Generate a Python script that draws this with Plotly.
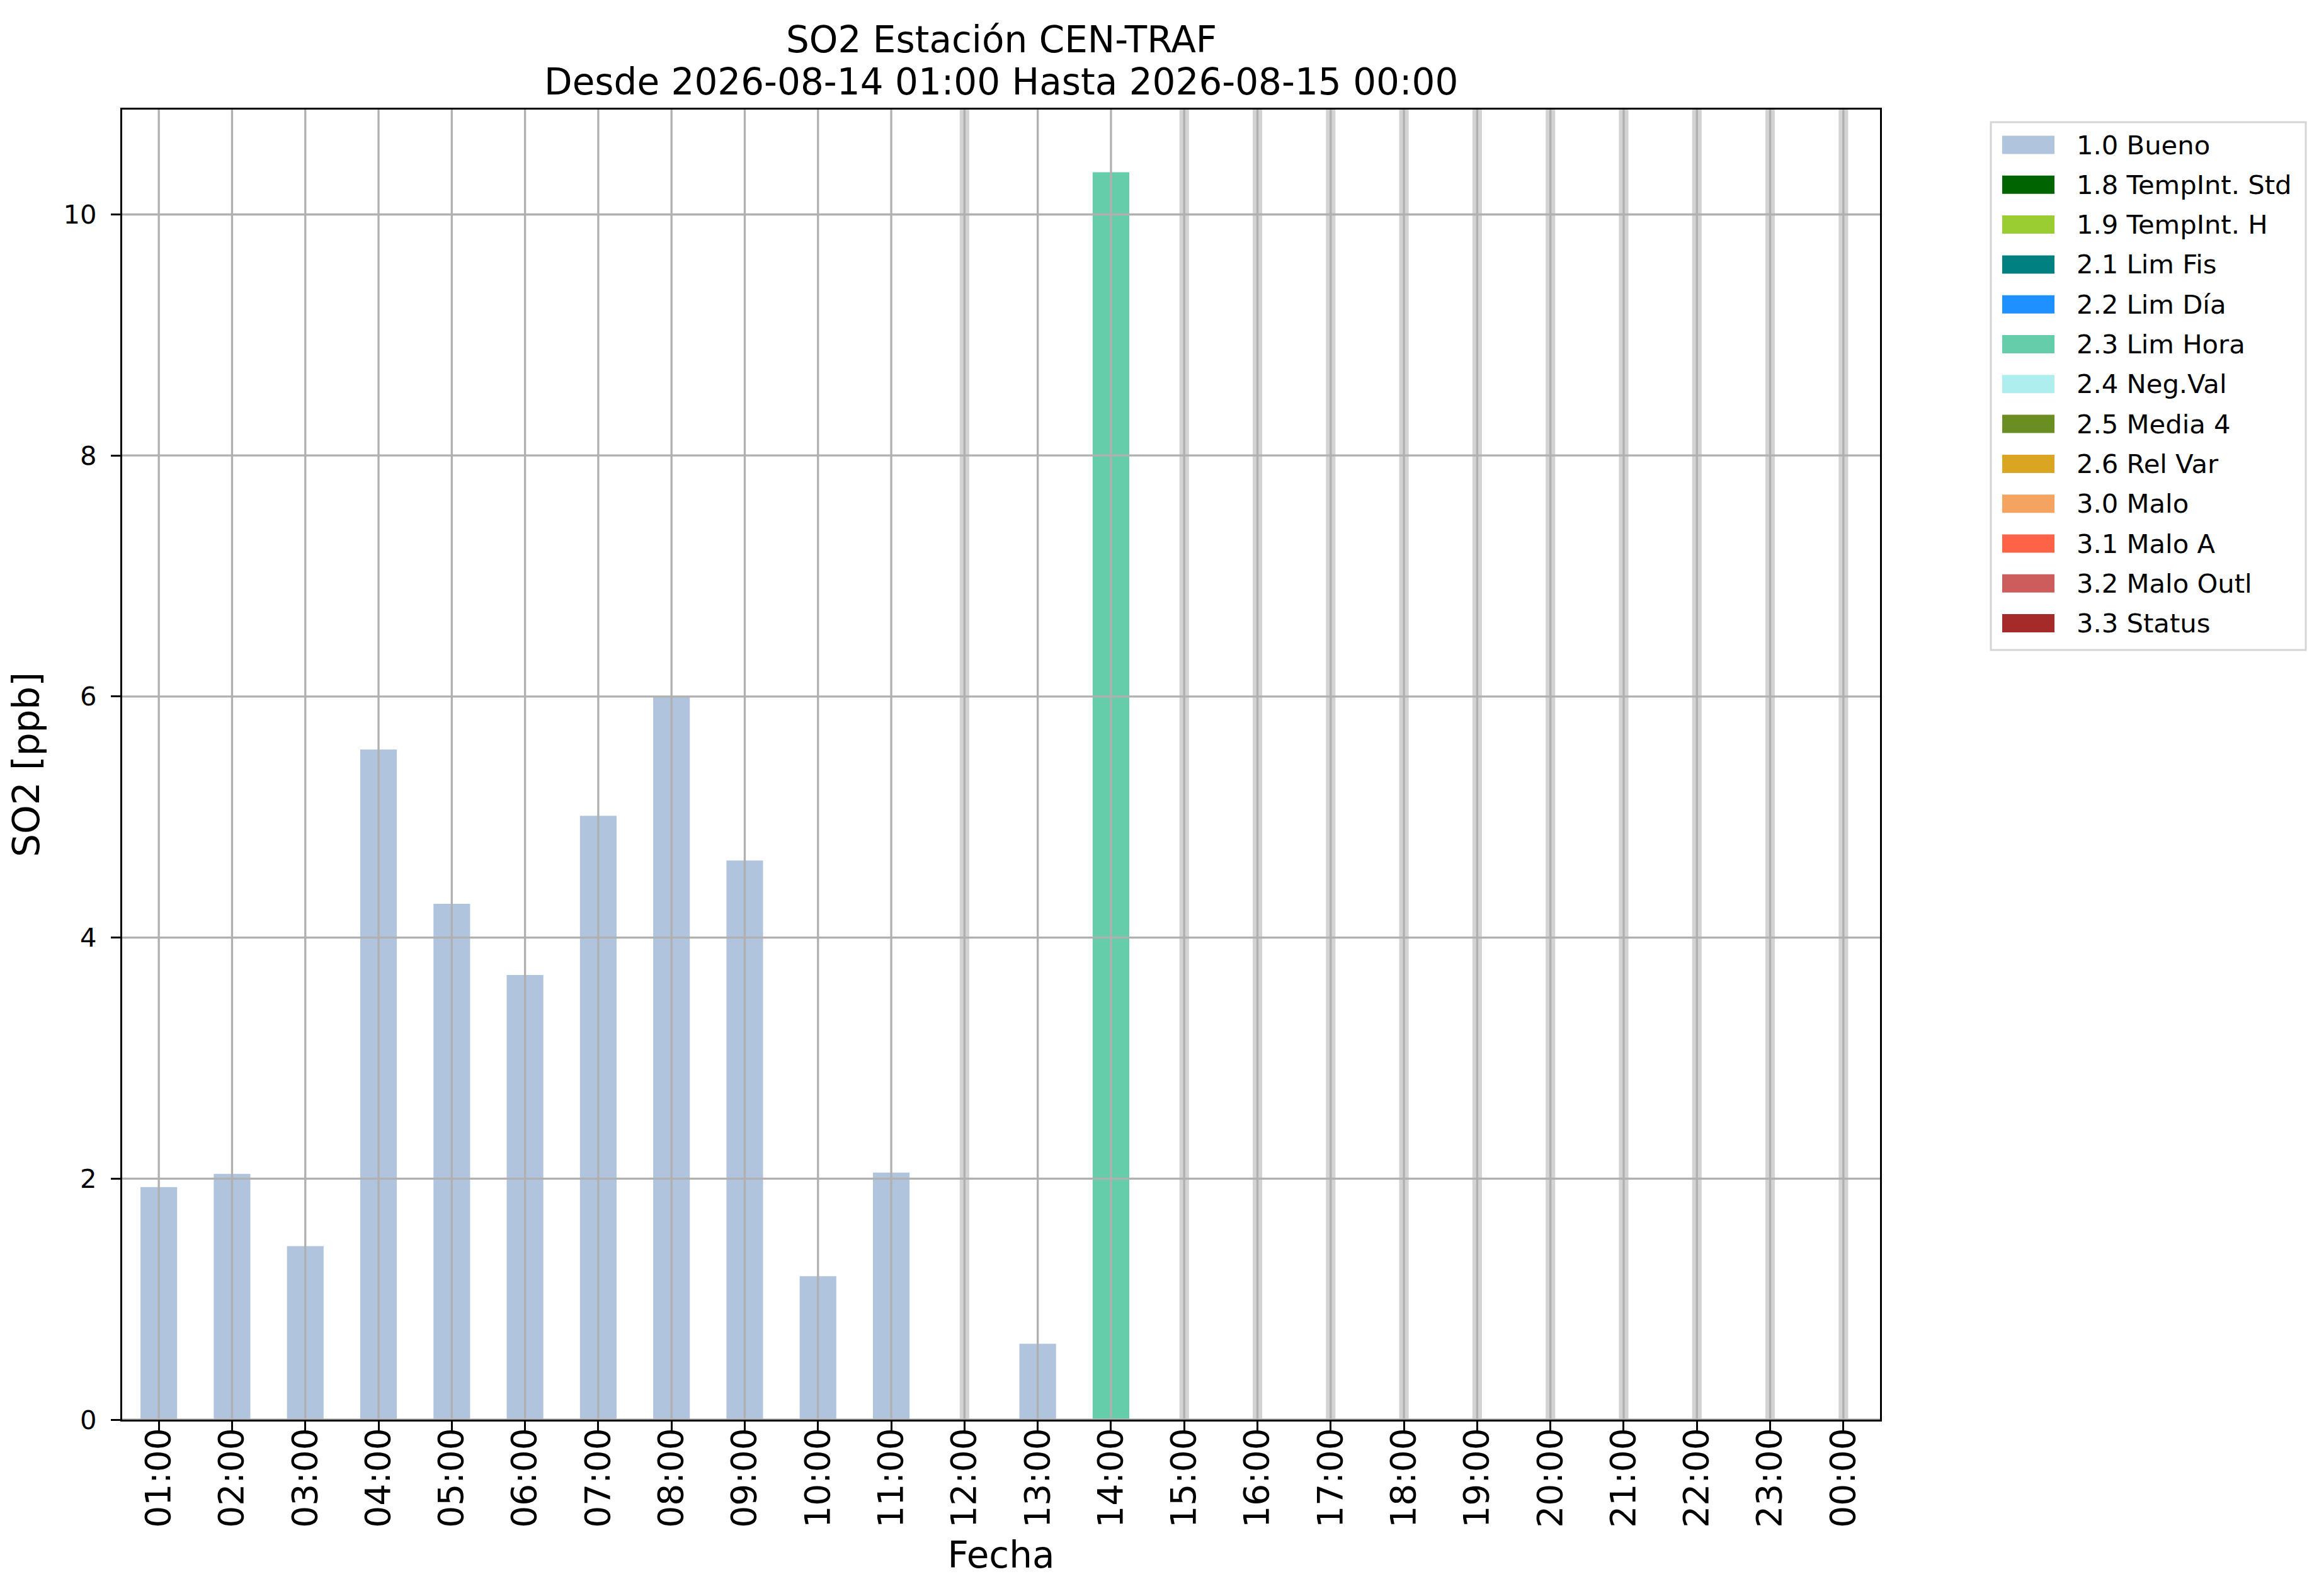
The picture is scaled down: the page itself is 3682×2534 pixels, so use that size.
import plotly.graph_objects as go

# ---------------- data ----------------
hours = ["01:00", "02:00", "03:00", "04:00", "05:00", "06:00", "07:00", "08:00",
         "09:00", "10:00", "11:00", "12:00", "13:00", "14:00", "15:00", "16:00",
         "17:00", "18:00", "19:00", "20:00", "21:00", "22:00", "23:00", "00:00"]
so2 = [1.93, 2.04, 1.44, 5.56, 4.28, 3.69, 5.01, 6.00, 4.64, 1.19, 2.05, None,
       0.63, 10.35, None, None, None, None, None, None, None, None, None, None]
flag = ["1.0", "1.0", "1.0", "1.0", "1.0", "1.0", "1.0", "1.0", "1.0", "1.0", "1.0", None,
        "1.0", "2.3", None, None, None, None, None, None, None, None, None, None]

flag_codes = ["1.0", "1.8", "1.9", "2.1", "2.2", "2.3", "2.4", "2.5", "2.6", "3.0", "3.1", "3.2", "3.3"]
flag_names = ["Bueno", "TempInt. Std", "TempInt. H", "Lim Fis", "Lim Día", "Lim Hora",
              "Neg.Val", "Media 4", "Rel Var", "Malo", "Malo A", "Malo Outl", "Status"]
flag_colors = ["#B0C4DE", "#006400", "#9ACD32", "#008080", "#1E90FF", "#66CDAA",
               "#AFEEEE", "#6B8E23", "#DAA520", "#F4A460", "#FF6347", "#CD5C5C", "#A52A2A"]
y_ticks = [0, 2, 4, 6, 8, 10]

title_lines = ["SO2 Estación CEN-TRAF", "Desde 2026-08-14 01:00 Hasta 2026-08-15 00:00"]

# ---------------- layout geometry (pixels) ----------------
W, H = 3682, 2534
L, R, T, B = 186, 2977, 166, 2246
FONT = "DejaVu Sans"
GRID = "#b0b0b0"


def px_x(p):
    return (p - L) / (R - L)


def px_y(p):
    return (B - p) / (B - T)


fig = go.Figure()

for code, name, col in zip(flag_codes, flag_names, flag_colors):
    yv = [v if f == code else None for v, f in zip(so2, flag)]
    fig.add_trace(go.Bar(x=hours, y=yv, name=f"{code} {name}", marker_color=col,
                         marker_line_width=0, width=0.5, showlegend=False))

shapes = []
# missing-data bands
for i, v in enumerate(so2):
    if v is None:
        shapes.append(dict(type="rect", xref="x", yref="y domain", x0=i - 0.065, x1=i + 0.065,
                           y0=0, y1=1, fillcolor="#d3d3d3", line_width=0, layer="below"))
# grid lines above bars
for i in range(len(hours)):
    shapes.append(dict(type="line", xref="x", yref="y domain", x0=i, x1=i, y0=0, y1=1,
                       line=dict(color=GRID, width=3.3), layer="above"))
for t in y_ticks:
    shapes.append(dict(type="line", xref="x domain", yref="y", x0=0, x1=1, y0=t, y1=t,
                       line=dict(color=GRID, width=3.3), layer="above"))

annotations = []
# two-line title
for txt, cy in zip(title_lines, [55, 122]):
    annotations.append(dict(xref="paper", yref="paper", x=0.5, y=px_y(cy),
                            xanchor="center", yanchor="middle", showarrow=False,
                            text=txt, font=dict(family=FONT, size=58, color="black")))

# custom legend (matplotlib style)
shapes.append(dict(type="rect", xref="paper", yref="paper",
                   x0=px_x(3153), x1=px_x(3653), y0=px_y(186), y1=px_y(1024),
                   line=dict(color="#d5d5d5", width=3), fillcolor="white", layer="above"))
row0, dy = 222, 63.3
for k, (code, name, col) in enumerate(zip(flag_codes, flag_names, flag_colors)):
    cy = row0 + k * dy
    shapes.append(dict(type="rect", xref="paper", yref="paper",
                       x0=px_x(3171), x1=px_x(3254), y0=px_y(cy - 14.5), y1=px_y(cy + 14.5),
                       fillcolor=col, line_width=0, layer="above"))
    annotations.append(dict(xref="paper", yref="paper", x=px_x(3287), y=px_y(cy),
                            xanchor="left", yanchor="middle", showarrow=False,
                            text=f"{code} {name}", font=dict(family=FONT, size=41.7, color="black")))

fig.update_layout(
    width=W, height=H,
    margin=dict(l=L, r=W - R, t=T, b=H - B, pad=0),
    paper_bgcolor="white", plot_bgcolor="white",
    barmode="overlay",
    showlegend=False,
    font=dict(family=FONT, color="black"),
    shapes=shapes,
    annotations=annotations,
)

fig.update_xaxes(
    type="category", categoryorder="array", categoryarray=hours,
    range=[-0.5, len(hours) - 0.5],
    showgrid=False, zeroline=False,
    showline=True, linecolor="black", linewidth=3.3, mirror=True,
    ticks="outside", ticklen=15, tickwidth=3.3, tickcolor="black",
    tickangle=-90, tickfont=dict(family=FONT, size=55, color="black"),
    ticklabelstandoff=-27,
    title=dict(text="Fecha", font=dict(family=FONT, size=58, color="black"), standoff=24),
)
fig.update_yaxes(
    range=[0, 10.87], tickvals=y_ticks, ticktext=[str(t) for t in y_ticks],
    showgrid=False, zeroline=False,
    showline=True, linecolor="black", linewidth=3.3, mirror=True,
    ticks="outside", ticklen=15, tickwidth=3.3, tickcolor="black",
    tickfont=dict(family=FONT, size=41.7, color="black"),
    ticklabelstandoff=14,
    title=dict(text="SO2 [ppb]", font=dict(family=FONT, size=58, color="black"), standoff=26),
)

fig.write_html("out.html")
